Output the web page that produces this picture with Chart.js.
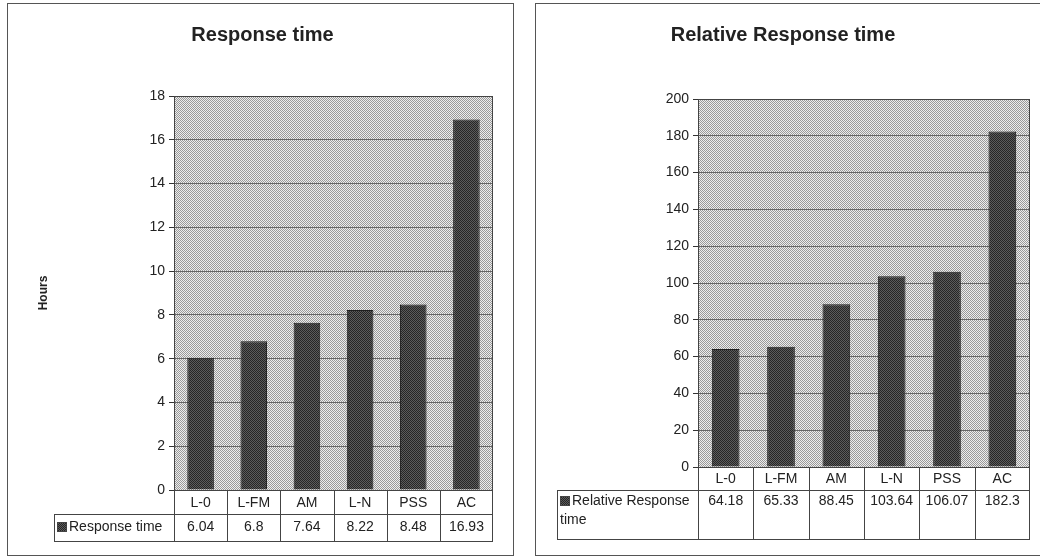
<!DOCTYPE html>
<html>
<head>
<meta charset="utf-8">
<title>Response time</title>
<script src="https://cdn.jsdelivr.net/npm/chart.js@4.4.1/dist/chart.umd.min.js"></script>
<style>
  html, body { margin: 0; padding: 0; background: #fff; overflow: hidden; width: 1040px; height: 558px; }
  .panel { position: absolute; top: 3px; border: 1px solid #555; background: #fff; }
  #left-panel { left: 7px; width: 505px; height: 551px; }
  #right-panel { left: 535px; width: 510px; height: 551px; }
  canvas { display: block; }
</style>
</head>
<body>
<div class="panel" id="left-panel"><canvas id="chart-time" width="505" height="551"></canvas></div>
<div class="panel" id="right-panel"><canvas id="chart-relative" width="510" height="551"></canvas></div>

<script>
const categories = ["L-0", "L-FM", "AM", "L-N", "PSS", "AC"];
const responseTime = [6.04, 6.8, 7.64, 8.22, 8.48, 16.93];
const relativeResponse = [64.18, 65.33, 88.45, 103.64, 106.07, 182.3];
const responseTicks = [0, 2, 4, 6, 8, 10, 12, 14, 16, 18];
const relativeTicks = [0, 20, 40, 60, 80, 100, 120, 140, 160, 180, 200];

Chart.defaults.font.family = "'Liberation Sans', Arial, sans-serif";
Chart.defaults.color = "#222";

// 2x2 dither, looks like the scanned print
function dither(light, dark) {
  const c = document.createElement("canvas");
  c.width = 2;
  c.height = 2;
  const g = c.getContext("2d");
  g.fillStyle = light;
  g.fillRect(0, 0, 2, 2);
  g.fillStyle = dark;
  g.fillRect(0, 0, 1, 1);
  g.fillRect(1, 1, 1, 1);
  return g.createPattern(c, "repeat");
}

const plotFill = dither("#ededed", "#999999");
const barFill = dither("#5c5c5c", "#262626");

const plotFrame = {
  id: "plotFrame",
  beforeDraw(chart) {
    const { ctx, chartArea: a } = chart;
    ctx.save();
    ctx.fillStyle = plotFill;
    ctx.fillRect(a.left, a.top, a.right - a.left, a.bottom - a.top);
    ctx.restore();
  },
  afterDatasetsDraw(chart) {
    const { ctx, chartArea: a } = chart;
    ctx.save();
    ctx.strokeStyle = "#444";
    ctx.lineWidth = 1;
    ctx.strokeRect(a.left + 0.5, a.top + 0.5, a.right - a.left - 1, a.bottom - a.top);
    ctx.restore();
  }
};

function wrapText(ctx, text, maxWidth) {
  const words = text.split(" ");
  const lines = [];
  let line = "";
  words.forEach((w) => {
    const test = line ? line + " " + w : w;
    if (line && ctx.measureText(test).width > maxWidth) {
      lines.push(line);
      line = w;
    } else {
      line = test;
    }
  });
  lines.push(line);
  return lines;
}

// data table under the plot, Excel style
const dataTable = {
  id: "dataTable",
  afterDraw(chart, args, opts) {
    const { ctx, chartArea: a, scales: { x } } = chart;
    const ds = chart.data.datasets[0];
    const n = chart.data.labels.length;
    const step = (a.right - a.left) / n;
    const top = a.bottom;
    const mid = top + opts.catHeight;
    const bottom = mid + opts.rowHeight;
    const left = opts.legendLeft;

    ctx.save();
    ctx.strokeStyle = "#444";
    ctx.lineWidth = 1;
    ctx.beginPath();
    ctx.moveTo(left, mid + 0.5);
    ctx.lineTo(a.right, mid + 0.5);
    ctx.moveTo(left, bottom + 0.5);
    ctx.lineTo(a.right, bottom + 0.5);
    ctx.moveTo(left + 0.5, mid);
    ctx.lineTo(left + 0.5, bottom);
    for (let i = 0; i <= n; i++) {
      const px = Math.round(i < n ? x.getPixelForValue(i) - step / 2 : a.right - 1) + 0.5;
      ctx.moveTo(px, top);
      ctx.lineTo(px, bottom);
    }
    ctx.stroke();

    ctx.font = "14px 'Liberation Sans', Arial, sans-serif";
    ctx.fillStyle = "#222";
    ctx.textAlign = "center";
    ctx.textBaseline = "middle";
    chart.data.labels.forEach((lab, i) => {
      const cx = x.getPixelForValue(i);
      ctx.fillText(lab, cx, top + opts.catHeight / 2 + 1);
      ctx.fillText(String(ds.data[i]), cx, mid + opts.valueOffset);
    });

    // legend key + series name
    const keySize = 10;
    const keyX = left + 3;
    const keyY = mid + opts.valueOffset - keySize / 2;
    ctx.fillStyle = barFill;
    ctx.fillRect(keyX, keyY, keySize, keySize);
    ctx.strokeRect(keyX + 0.5, keyY + 0.5, keySize - 1, keySize - 1);

    ctx.fillStyle = "#222";
    ctx.textAlign = "left";
    const textX = keyX + keySize + 2;
    const lines = wrapText(ctx, ds.label, a.left - textX - 4);
    lines.forEach((ln, k) => {
      const lx = k === 0 ? textX : keyX;
      ctx.fillText(ln, lx, mid + opts.valueOffset + k * 19);
    });
    ctx.restore();
  }
};

function makeChart(canvasId, label, values, ticks, cfg) {
  return new Chart(document.getElementById(canvasId), {
    type: "bar",
    data: {
      labels: categories,
      datasets: [
        {
          label: label,
          data: values,
          backgroundColor: barFill,
          borderColor: "#1e1e1e",
          borderWidth: 1,
          borderSkipped: "bottom",
          barPercentage: 0.5,
          categoryPercentage: 1
        }
      ]
    },
    options: {
      responsive: false,
      animation: false,
      layout: { padding: cfg.padding },
      plugins: {
        legend: { display: false },
        tooltip: { enabled: false },
        title: {
          display: true,
          text: cfg.title,
          color: "#222",
          font: { size: 20, weight: "bold" },
          padding: { top: 19, bottom: cfg.titleGap }
        },
        dataTable: cfg.table
      },
      scales: {
        x: {
          display: false
        },
        y: {
          min: 0,
          max: ticks[ticks.length - 1],
          afterBuildTicks: (scale) => {
            scale.ticks = ticks.map((v) => ({ value: v }));
          },
          afterFit: (scale) => {
            scale.width = cfg.axisWidth;
          },
          ticks: {
            color: "#222",
            padding: 4,
            font: { size: 14 }
          },
          grid: {
            color: "#666",
            lineWidth: 1,
            tickLength: 5,
            tickColor: "#333"
          },
          border: { color: "#333" },
          title: {
            display: cfg.yTitle !== "",
            text: cfg.yTitle,
            color: "#222",
            font: { size: 12, weight: "bold" }
          }
        }
      }
    },
    plugins: [plotFrame, dataTable]
  });
}

makeChart("chart-time", "Response time", responseTime, responseTicks, {
  title: "Response time",
  titleGap: 49,
  padding: { left: 24, right: 20, top: 0, bottom: 65 },
  axisWidth: 142,
  yTitle: "Hours",
  table: { catHeight: 24, rowHeight: 27, legendLeft: 46, valueOffset: 13 }
});

makeChart("chart-relative", "Relative Response time", relativeResponse, relativeTicks, {
  title: "Relative Response time",
  titleGap: 52,
  padding: { left: 0, right: 16, top: 0, bottom: 88 },
  axisWidth: 162,
  yTitle: "",
  table: { catHeight: 23, rowHeight: 49, legendLeft: 21, valueOffset: 11 }
});
</script>
</body>
</html>
